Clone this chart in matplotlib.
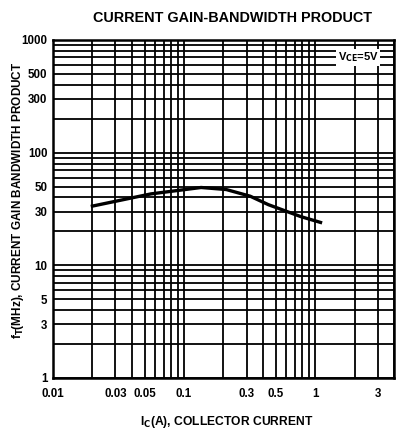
import matplotlib
matplotlib.use("Agg")
import matplotlib.pyplot as plt
from matplotlib.ticker import FixedLocator, LogLocator, NullFormatter

# Collector current (A) and transition frequency fT (MHz), VCE = 5 V
ic_amps = [0.02, 0.056, 0.135, 0.21, 0.32, 0.44, 0.78, 1.1]
ft_mhz = [33.5, 43.0, 49.0, 47.0, 41.0, 34.5, 27.0, 24.0]

x_ticks = [0.01, 0.03, 0.05, 0.1, 0.3, 0.5, 1, 3]
x_tick_labels = ["0.01", "0.03", "0.05", "0.1", "0.3", "0.5", "1", "3"]
y_ticks = [1, 3, 5, 10, 30, 50, 100, 300, 500, 1000]
y_tick_labels = ["1", "3", "5", "10", "30", "50", "100", "300", "500", "1000"]

plt.rcParams["font.family"] = ["Liberation Sans", "DejaVu Sans"]
plt.rcParams["font.weight"] = "bold"

fig = plt.figure(figsize=(3.98, 4.29), dpi=100)
ax = fig.add_axes([0.133, 0.119, 0.857, 0.788])

ax.set_xscale("log")
ax.set_yscale("log")
ax.set_xlim(0.01, 4)
ax.set_ylim(1, 1000)

# full log grid: every integer multiple in each decade
ax.xaxis.set_minor_locator(LogLocator(base=10, subs=range(1, 10), numticks=20))
ax.yaxis.set_minor_locator(LogLocator(base=10, subs=range(1, 10), numticks=20))
ax.xaxis.set_minor_formatter(NullFormatter())
ax.yaxis.set_minor_formatter(NullFormatter())
ax.grid(True, which="both", color="black", linewidth=1.3)

ax.xaxis.set_major_locator(FixedLocator(x_ticks))
ax.set_xticklabels(x_tick_labels)
ax.yaxis.set_major_locator(FixedLocator(y_ticks))
ax.set_yticklabels(y_tick_labels)
ax.tick_params(axis="x", which="both", length=0, labelsize=8.3, pad=7)
ax.tick_params(axis="y", which="both", length=0, labelsize=8.3, pad=4)
for lab in ax.get_xticklabels() + ax.get_yticklabels():
    lab.set_fontweight("bold")

for s in ax.spines.values():
    s.set_linewidth(1.8)
    s.set_color("black")

ax.plot(ic_amps, ft_mhz, color="black", linewidth=2.4, zorder=5)

ax.text(0.955, 0.948, r"V$_{\mathbf{CE}}$=5V", transform=ax.transAxes,
        ha="right", va="center", fontsize=8, fontweight="bold",
        bbox=dict(facecolor="white", edgecolor="none", pad=1.0), zorder=6)

fig.text(0.585, 0.957, "CURRENT GAIN-BANDWIDTH PRODUCT", ha="center", va="center",
         fontsize=10.4, fontweight="bold")
fig.text(0.57, 0.016, r"I$_{\mathbf{C}}$(A), COLLECTOR CURRENT", ha="center",
         va="center", fontsize=8.7, fontweight="bold")
fig.text(0.045, 0.534, r"f$_{\mathbf{T}}$(MHz), CURRENT GAIN BANDWIDTH PRODUCT",
         ha="center", va="center", rotation=90, fontsize=8.5, fontweight="bold")

fig.savefig("out.png", dpi=100, facecolor="white")
